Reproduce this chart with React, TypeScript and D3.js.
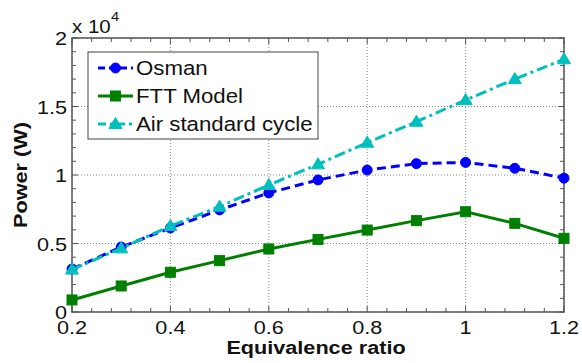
import React from "react";
import * as d3 from "d3";

const xValues = [0.2, 0.3, 0.4, 0.5, 0.6, 0.7, 0.8, 0.9, 1.0, 1.1, 1.2];
const osman = [0.314, 0.474, 0.613, 0.745, 0.869, 0.964, 1.036, 1.083, 1.092, 1.049, 0.977];
const ftt = [0.088, 0.19, 0.29, 0.375, 0.46, 0.53, 0.598, 0.667, 0.732, 0.647, 0.538];
const airStd = [0.31, 0.465, 0.628, 0.769, 0.927, 1.078, 1.236, 1.389, 1.547, 1.70, 1.845];
const xTicks = [0.2, 0.4, 0.6, 0.8, 1.0, 1.2];
const xTickLabels = ["0.2", "0.4", "0.6", "0.8", "1", "1.2"];
const yTicks = [0, 0.5, 1, 1.5, 2];
const yTickLabels = ["0", "0.5", "1", "1.5", "2"];
const legendLabels = ["Osman", "FTT Model", "Air standard cycle"];

const W = 582, H = 363;
const L = 72, R = 564, T = 38, B = 312;
const SX = 1.14;
const FONT = "'Liberation Sans', Arial, Helvetica, sans-serif";

const x = d3.scaleLinear().domain([0.2, 1.2]).range([L, R]);
const y = d3.scaleLinear().domain([0, 2]).range([B, T]);

const blue = "#0000ff";
const green = "#007f00";
const cyan = "#00bfbf";

function Marker({ kind, cx, cy, color }: { kind: string; cx: number; cy: number; color: string }) {
  if (kind === "circle") return <circle cx={cx} cy={cy} r={5} fill={color} stroke={color} strokeWidth={1} />;
  if (kind === "square") return <rect x={cx - 5} y={cy - 5} width={10} height={10} fill={color} stroke={color} strokeWidth={1} />;
  const s = 6.5;
  return (
    <path
      d={`M${cx},${cy - s} L${cx + s},${cy + s * 0.7} L${cx - s},${cy + s * 0.7} Z`}
      fill={color}
      stroke={color}
      strokeWidth={1}
    />
  );
}

function Txt({ x: tx, y: ty, anchor, size, weight, children, rotate }: any) {
  return (
    <text
      transform={`translate(${tx},${ty})${rotate ? ` rotate(${rotate})` : ""} scale(${SX},1)`}
      textAnchor={anchor || "start"}
      fontSize={size}
      fontWeight={weight || "normal"}
      fontFamily={FONT}
      fill="#111"
    >
      {children}
    </text>
  );
}

export default function App() {
  const line = d3
    .line<number>()
    .x((_, i) => x(xValues[i]))
    .y((d) => y(d));

  const series = [
    { data: osman, color: blue, dash: "9,5", kind: "circle" },
    { data: ftt, color: green, dash: "none", kind: "square" },
    { data: airStd, color: cyan, dash: "11,4,3,4", kind: "triangle" },
  ];

  const xMinor = d3.range(0, 26).map((i) => 0.2 + i * 0.04);
  const yMinor = d3.range(0, 21).map((i) => i * 0.1);

  return (
    <svg width={W} height={H} style={{ position: "absolute", left: 0, top: 0, background: "#fff" }}>
      <rect x={0} y={0} width={W} height={H} fill="#fff" />
      {/* grid */}
      {xTicks.map((t) => (
        <line key={"gx" + t} x1={x(t)} x2={x(t)} y1={T} y2={B} stroke="#888" strokeWidth={1} strokeDasharray="1,2" />
      ))}
      {yTicks.map((t) => (
        <line key={"gy" + t} x1={L} x2={R} y1={y(t)} y2={y(t)} stroke="#888" strokeWidth={1} strokeDasharray="1,2" />
      ))}
      {/* minor ticks */}
      {xMinor.map((t, i) => {
        const len = Math.abs((t - 0.2) / 0.2 - Math.round((t - 0.2) / 0.2)) < 1e-6 ? 6 : 4;
        return (
          <g key={"xm" + i}>
            <line x1={x(t)} x2={x(t)} y1={B} y2={B - len} stroke="#555" strokeWidth={1} />
            <line x1={x(t)} x2={x(t)} y1={T} y2={T + len} stroke="#555" strokeWidth={1} />
          </g>
        );
      })}
      {yMinor.map((t, i) => {
        const len = Math.abs(t / 0.5 - Math.round(t / 0.5)) < 1e-6 ? 6 : 4;
        return (
          <g key={"ym" + i}>
            <line x1={L} x2={L + len} y1={y(t)} y2={y(t)} stroke="#555" strokeWidth={1} />
            <line x1={R} x2={R - len} y1={y(t)} y2={y(t)} stroke="#555" strokeWidth={1} />
          </g>
        );
      })}
      {/* box */}
      <rect x={L} y={T} width={R - L} height={B - T} fill="none" stroke="#555" strokeWidth={1.5} />
      {/* series */}
      {series.map((s, si) => (
        <g key={"s" + si}>
          <path d={line(s.data) || ""} fill="none" stroke={s.color} strokeWidth={3} strokeDasharray={s.dash} />
          {s.data.map((v, i) => (
            <Marker key={i} kind={s.kind} cx={x(xValues[i])} cy={y(v)} color={s.color} />
          ))}
        </g>
      ))}
      {/* tick labels */}
      {xTicks.map((t, i) => (
        <Txt key={"xl" + t} x={x(t)} y={334} anchor="middle" size={19}>
          {xTickLabels[i]}
        </Txt>
      ))}
      {yTicks.map((t, i) => (
        <Txt key={"yl" + t} x={67} y={y(t) + 7} anchor="end" size={19}>
          {yTickLabels[i]}
        </Txt>
      ))}
      {/* exponent */}
      <Txt x={72} y={33} anchor="start" size={18}>
        x 10
      </Txt>
      <Txt x={111} y={21} anchor="start" size={13}>
        4
      </Txt>
      {/* axis labels */}
      <Txt x={316} y={354} anchor="middle" size={19} weight="bold">
        Equivalence ratio
      </Txt>
      <Txt x={27} y={175} anchor="middle" size={19} weight="bold" rotate={-90}>
        Power (W)
      </Txt>
      {/* legend */}
      <rect x={88} y={52} width={230} height={87} fill="#fff" stroke="#444" strokeWidth={1} />
      {series.map((s, i) => {
        const ly = [68, 96, 124][i];
        return (
          <g key={"lg" + i}>
            <line x1={98} x2={133} y1={ly} y2={ly} stroke={s.color} strokeWidth={3} strokeDasharray={s.dash === "none" ? "none" : s.kind === "circle" ? "7,4" : "8,4,3,4"} />
            <Marker kind={s.kind} cx={115.5} cy={ly} color={s.color} />
            <Txt x={136} y={ly + 7} anchor="start" size={19.5}>
              {legendLabels[i]}
            </Txt>
          </g>
        );
      })}
    </svg>
  );
}
